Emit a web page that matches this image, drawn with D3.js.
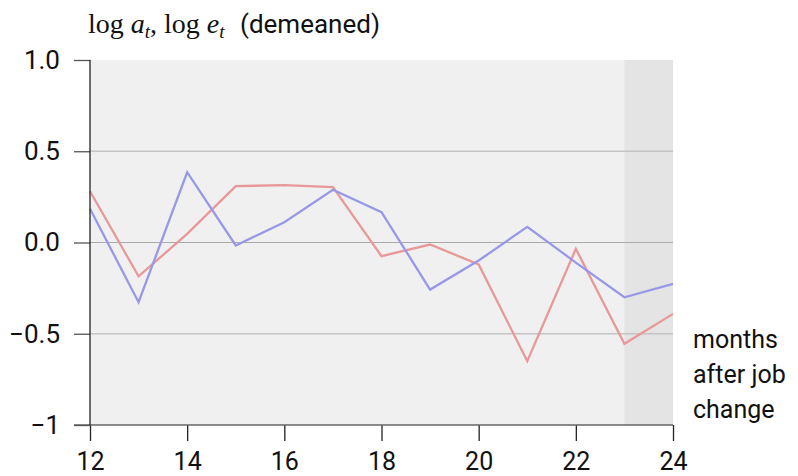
<!DOCTYPE html>
<html>
<head>
<meta charset="utf-8">
<script src="https://cdn.jsdelivr.net/npm/d3@7"></script>
<style>
  body { margin: 0; background: white; }
  svg text { font-family: "Roboto", sans-serif; }
</style>
</head>
<body>
<div id="chart"></div>
<script>
// months after job change
let months = [12, 13, 14, 15, 16, 17, 18, 19, 20, 21, 22, 23, 24];
// blue series
let seriesA = [0.185, -0.327, 0.385, -0.016, 0.111, 0.289, 0.166, -0.258, -0.099, 0.086, -0.11, -0.30, -0.227];
// red series
let seriesE = [0.281, -0.185, 0.047, 0.309, 0.314, 0.303, -0.075, -0.011, -0.12, -0.65, -0.035, -0.555, -0.391];
let yTicks = [1, 0.5, 0, -0.5, -1];
let yTickLabels = ["1.0", "0.5", "0.0", "\u22120.5", "\u22121"];
let xTicks = [12, 14, 16, 18, 20, 22, 24];
let shadeRange = [23, 24];

let W = 798, H = 476;
let margin = { top: 60, left: 90, right: 125, bottom: 51 },
  width = W - margin.left - margin.right,
  height = H - margin.top - margin.bottom;

let svg = d3.select("#chart").append("svg")
  .attr("width", W).attr("height", H);

let g = svg.append("g").attr("transform", "translate(" + margin.left + "," + margin.top + ")");

let x = d3.scaleLinear().domain([12, 24]).range([0, width]);
let y = d3.scaleLinear().domain([-1, 1]).range([height, 0]);

// plot background
g.append("rect").attr("x", 0).attr("y", 0).attr("width", width).attr("height", height)
  .attr("fill", "#f0f0f0");
g.append("rect").attr("x", x(shadeRange[0])).attr("y", 0)
  .attr("width", x(shadeRange[1]) - x(shadeRange[0])).attr("height", height)
  .attr("fill", "#e4e4e4");

// grid lines
g.selectAll(".grid").data([0.5, 0, -0.5]).enter().append("line")
  .attr("x1", 0).attr("x2", width)
  .attr("y1", d => y(d)).attr("y2", d => y(d))
  .attr("stroke", d => d === 0 ? "#aaaaaa" : "#c4c4c4")
  .attr("stroke-width", d => d === 0 ? 1.2 : 1.5);

// lines
let line = d3.line().x((d, i) => x(months[i])).y(d => y(d));
g.append("path").datum(seriesE).attr("d", line)
  .attr("fill", "none").attr("stroke", "#e89898").attr("stroke-width", 2.3);
g.append("path").datum(seriesA).attr("d", line)
  .attr("fill", "none").attr("stroke", "#9898e8").attr("stroke-width", 2.3);

// bottom axis
let xAxis = g.append("g").attr("transform", "translate(0," + height + ")")
  .call(d3.axisBottom(x).tickValues(xTicks).tickSize(16).tickPadding(11).tickFormat(d3.format("d")));
xAxis.select(".domain").remove();
xAxis.append("line").attr("x1", -16).attr("x2", width).attr("stroke", "#666").attr("stroke-width", 1.3);
xAxis.selectAll(".tick line").attr("stroke", "#222").attr("stroke-width", 1.3);
xAxis.selectAll(".tick text").attr("fill", "#111").style("font-size", "25px")
  .style("font-family", "Roboto, sans-serif");

// left axis
let yAxis = g.append("g")
  .call(d3.axisLeft(y).tickValues(yTicks).tickSize(16).tickPadding(14)
    .tickFormat((d, i) => yTickLabels[i]));
yAxis.select(".domain").remove();
yAxis.append("line").attr("y1", 0).attr("y2", height).attr("stroke", "#222").attr("stroke-width", 1.3);
yAxis.selectAll(".tick line").attr("stroke", "#555").attr("stroke-width", 1.3);
yAxis.selectAll(".tick text").attr("fill", "#111").style("font-size", "26px")
  .style("font-family", "Roboto, sans-serif");

// x axis caption
let cap = svg.append("text").attr("x", 693).attr("y", 348)
  .attr("fill", "#111").style("font-size", "25px");
["months", "after job", "change"].forEach(function(s, i) {
  cap.append("tspan").attr("x", 693).attr("dy", i === 0 ? 0 : 35).text(s);
});

// title with math
let title = svg.append("text").attr("x", 88).attr("y", 33).attr("fill", "#111")
  .style("font-size", "28px");
let serif = "'Liberation Serif', 'DejaVu Serif', serif";
title.append("tspan").style("font-family", serif).text("log ");
title.append("tspan").style("font-family", serif).style("font-style", "italic").text("a");
title.append("tspan").style("font-family", serif).style("font-style", "italic")
  .style("font-size", "19px").attr("dy", 5).text("t");
title.append("tspan").style("font-family", serif).attr("dy", -5).text(", log ");
title.append("tspan").style("font-family", serif).style("font-style", "italic").text("e");
title.append("tspan").style("font-family", serif).style("font-style", "italic")
  .style("font-size", "19px").attr("dy", 5).text("t");
title.append("tspan").attr("x", 240).attr("dy", -5).style("font-size", "26px").text("(demeaned)");
</script>
</body>
</html>
